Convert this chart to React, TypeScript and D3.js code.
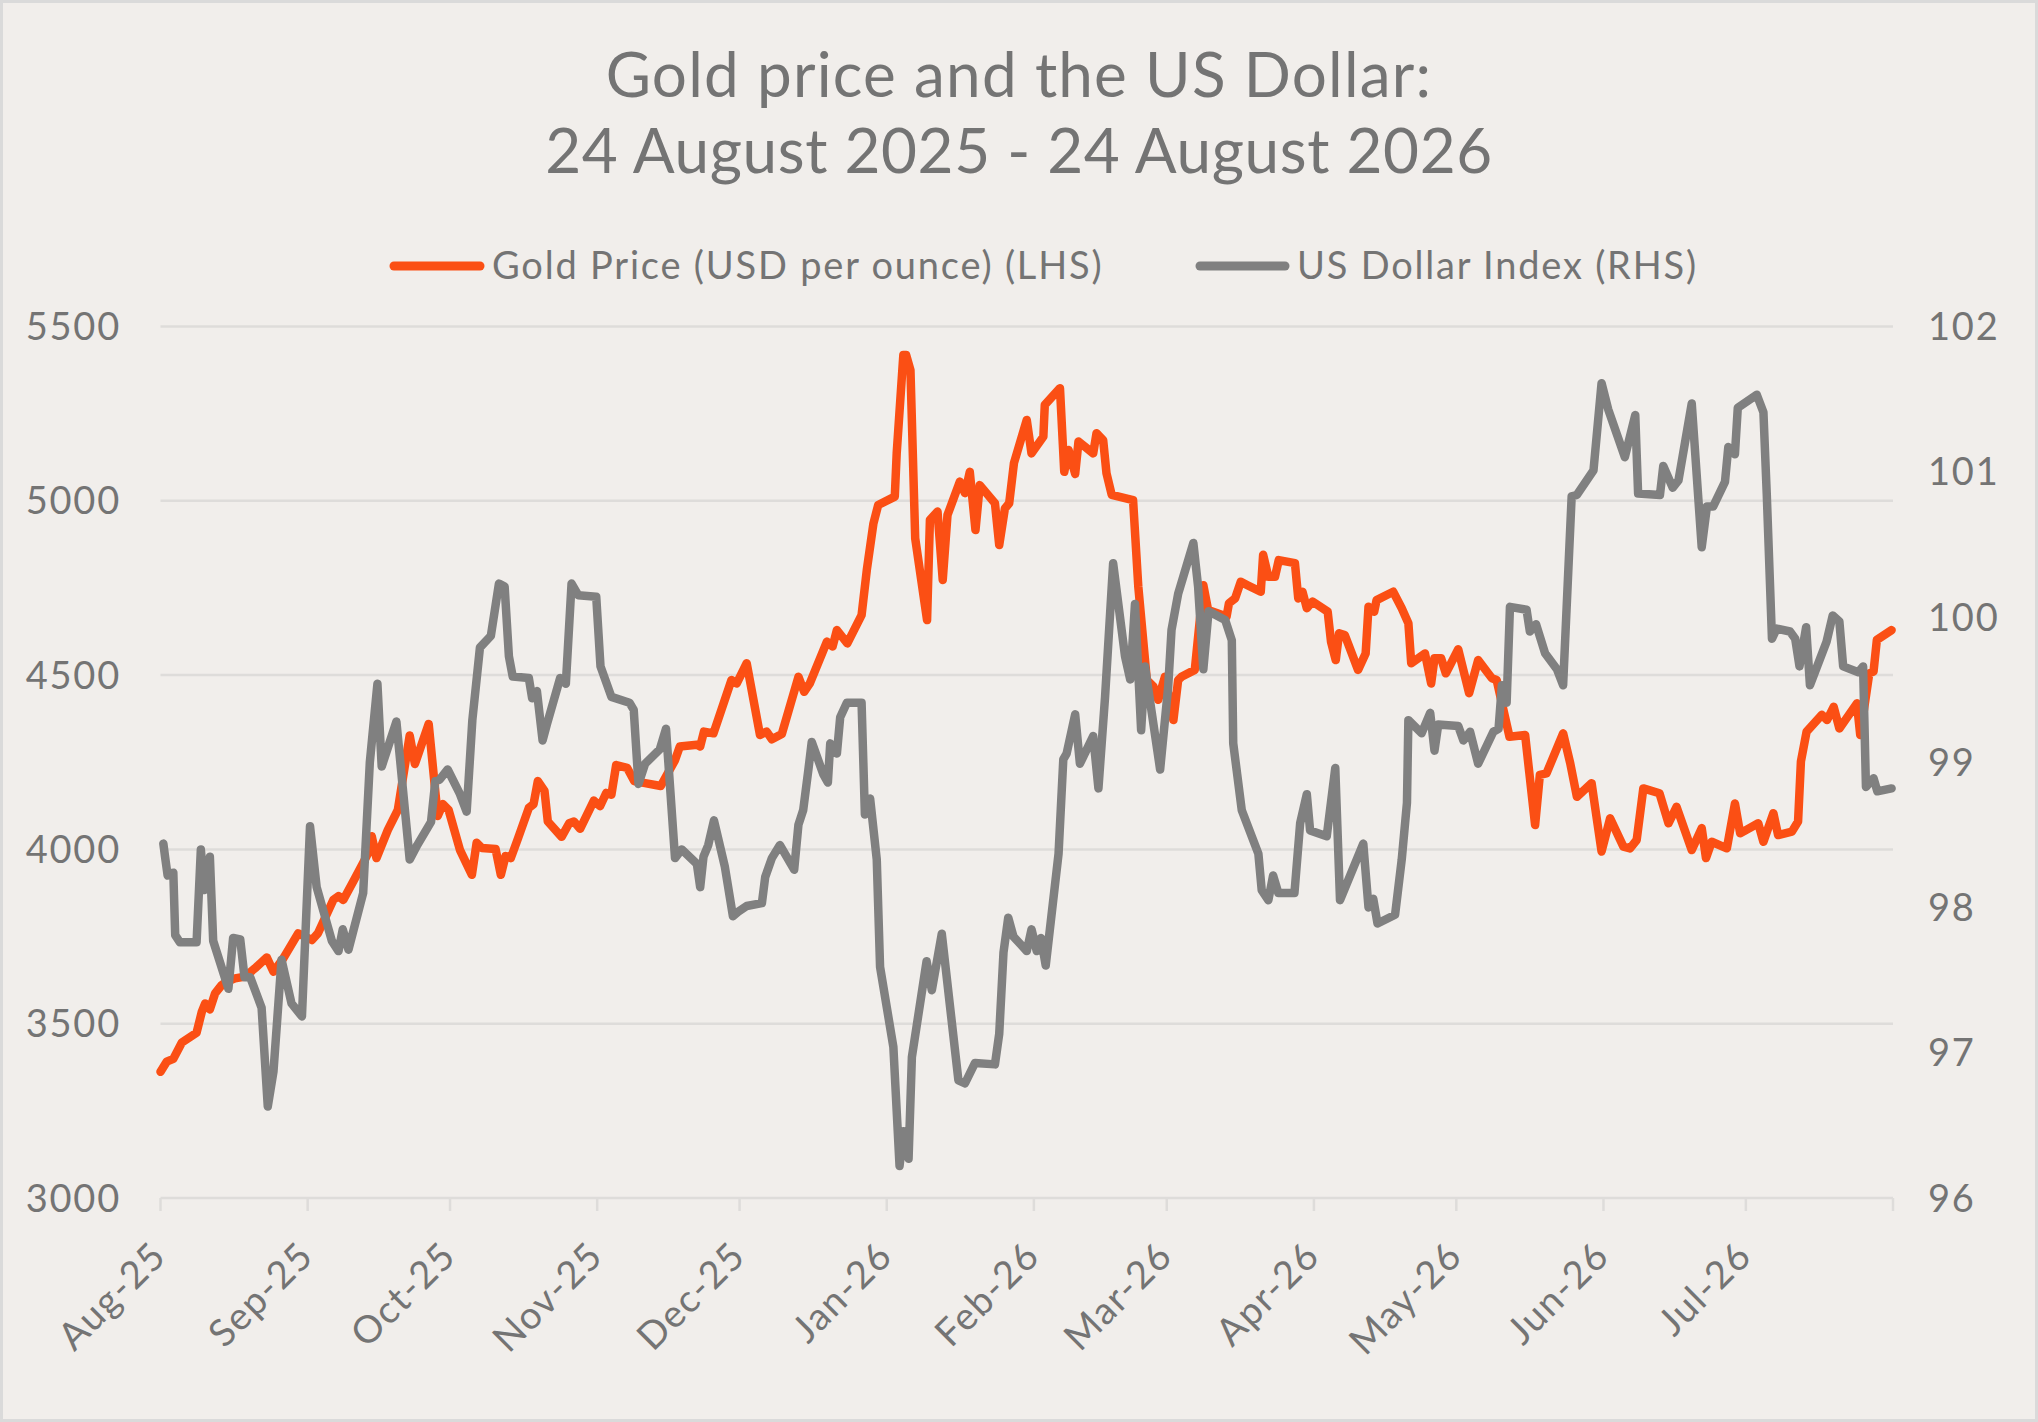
import React from "react";
import * as d3 from "d3";

const START_DATE = "2025-08-24";
const END_DATE = "2026-08-24";

const titleLines = ["Gold price and the US Dollar:", "24 August 2025 - 24 August 2026"];
const seriesNames = ["Gold Price (USD per ounce) (LHS)", "US Dollar Index (RHS)"];

const goldTicks = [3000, 3500, 4000, 4500, 5000, 5500];
const dxyTicks = [96, 97, 98, 99, 100, 101, 102];

// days since 24 Aug 2025
const goldDays = [
  0, 1.3, 2.7, 4.5, 7.6, 8.7, 9.4, 10.4, 11.5, 12.9, 13.9, 15.7, 17.8, 19.9, 22.4, 23.8, 25.9, 29.0,
  31.9, 33.2, 36.4, 37.5, 38.5, 41.0, 43.8, 44.5, 45.5, 47.9, 50.0, 52.5, 53.6, 56.5, 58.4, 59.5, 60.7,
  63.1, 65.6, 66.6, 67.7, 70.6, 71.7, 72.7, 73.8, 75.3, 77.6, 78.6, 79.5, 80.9, 81.6, 84.5, 86.1, 87.1,
  88.4, 91.3, 92.6, 93.9, 95.0, 96.0, 98.3, 99.8, 102.1, 105.4, 108.4, 109.4, 113.0, 113.7, 114.5, 116.5,
  120.3, 121.4, 123.5, 126.3, 127.7, 128.8, 130.9, 134.4, 135.6, 136.8, 140.4, 141.6, 142.5, 144.7, 147.7,
  148.8, 150.2, 151.2, 154.7, 155.1, 156.5, 157.1, 158.0, 159.0, 161.5, 162.1, 163.7, 164.8, 165.8, 168.4,
  169.5, 170.5, 171.7, 172.6, 175.8, 176.7, 177.9, 178.8, 179.8, 182.5, 183.5, 186.0, 186.3, 189.5, 190.4,
  191.3, 192.7, 193.4, 196.5, 197.2, 198.6, 199.3, 200.4, 204.9, 206.0, 207.8, 209.2, 210.2, 211.6, 213.4,
  214.4, 215.1, 217.9, 219.7, 220.7, 224.6, 225.1, 226.4, 227.6, 229.0, 231.8, 232.3, 233.4, 234.8, 235.6,
  239.0, 239.7, 240.6, 241.5, 242.7, 245.9, 246.6, 247.6, 248.3, 249.5, 252.3, 253.9, 254.5, 255.7, 256.2,
  259.7, 261.5, 262.9, 263.5, 266.4, 267.7, 268.4, 269.8, 270.8, 273.4, 275.7, 277.6, 280.5, 281.5, 284.2,
  287.5, 289.6, 290.6, 292.0, 295.5, 297.0, 298.4, 301.5, 303.6, 305.4, 308.2, 309.6, 311.0, 312.4, 315.8,
  317.7, 319.4, 322.6, 324.7, 325.6, 326.8, 330.0, 331.7, 332.8, 336.6, 337.7, 339.8, 340.8, 343.7, 345.0,
  345.6, 346.8, 350.0, 351.1, 352.5, 353.7, 355.2, 357.4, 358.1, 360.0, 360.9, 361.6, 364.7,
];
const goldPrice = [
  3362, 3391, 3399, 3446, 3474, 3534, 3558, 3541, 3587, 3611, 3620, 3630, 3635, 3659, 3690, 3649, 3688, 3759,
  3740, 3760, 3855, 3866, 3855, 3918, 3990, 4038, 3975, 4056, 4113, 4327, 4245, 4360, 4096, 4130, 4113,
  3998, 3927, 4019, 4004, 4001, 3927, 3981, 3975, 4031, 4119, 4130, 4196, 4168, 4080, 4036, 4075, 4080,
  4059, 4140, 4124, 4162, 4157, 4242, 4234, 4196, 4190, 4182, 4256, 4295, 4300, 4295, 4338, 4333,
  4486, 4476, 4534, 4328, 4338, 4316, 4331, 4495, 4452, 4476, 4596, 4582, 4629, 4591, 4672,
  4801, 4935, 4988, 5012, 5136, 5418, 5418, 5375, 4892, 4658, 4945, 4969, 4773, 4959, 5055,
  5022, 5083, 4916, 5045, 4993, 4873, 4978, 4993, 5108, 5232, 5136, 5184, 5275, 5323, 5083,
  5146, 5077, 5170, 5136, 5194, 5174, 5079, 5017, 5002, 4754, 4486, 4467, 4429, 4495, 4371,
  4486, 4495, 4515, 4758, 4687, 4668, 4706, 4720, 4768, 4758, 4739, 4845, 4782, 4782, 4830,
  4821, 4720, 4739, 4692, 4711, 4682, 4596, 4543, 4620, 4615, 4515, 4562, 4696, 4682, 4715,
  4739, 4692, 4649, 4534, 4562, 4476, 4548, 4548, 4505, 4574, 4448, 4543, 4491, 4486, 4323,
  4328, 4070, 4214, 4218, 4333, 4247, 4151, 4190, 3994, 4089, 4008, 4003, 4027, 4175, 4161,
  4075, 4122, 3998, 4061, 3975, 4022, 4003, 4132, 4046, 4075, 4022, 4104, 4041, 4051, 4080,
  4252, 4338, 4386, 4371, 4409, 4347, 4376, 4419, 4328, 4505, 4510, 4601, 4629,
];

const dxyDays = [
  0.6, 1.0, 1.5, 2.7, 3.1, 4.1, 7.6, 8.5, 9.2, 10.4, 11.1, 14.3, 15.3, 16.8, 17.7, 18.9, 21.3, 22.6, 23.8,
  25.5, 27.6, 29.8, 31.5, 32.9, 36.1, 37.5, 38.4, 39.6, 42.7, 44.1, 45.7, 46.6, 49.7, 52.5, 54.1, 57.0,
  57.9, 58.8, 60.5, 63.1, 64.5, 65.7, 67.3, 69.6, 71.3, 72.5, 73.4, 74.2, 77.6, 78.3, 79.3, 80.5, 81.4,
  84.2, 85.4, 86.6, 88.0, 91.8, 92.7, 95.0, 98.8, 99.7, 100.7, 102.1, 105.2, 106.5, 108.4, 109.8, 113.0,
  113.7, 114.4, 115.4, 116.6, 118.9, 120.6, 121.7, 123.5, 126.7, 127.4, 128.8, 130.5, 133.5, 134.4, 135.4,
  136.5, 137.2, 139.6, 140.6, 141.1, 142.5, 143.2, 144.6, 147.7, 148.4, 149.5, 150.9, 151.6, 154.4, 155.7,
  156.5, 157.6, 158.3, 161.4, 162.5, 164.6, 168.1, 169.5, 171.6, 175.8, 176.7, 177.6, 178.6, 179.7, 182.5,
  183.5, 184.6, 185.5, 186.5, 189.2, 190.2, 190.9, 192.7, 193.7, 196.5, 197.6, 199.0, 200.7, 203.2, 204.3,
  205.3, 206.6, 207.4, 210.6, 212.3, 213.0, 214.4, 217.6, 218.6, 219.7, 220.8, 224.3, 225.7, 226.0, 227.8,
  231.3, 232.0, 233.4, 234.4, 235.5, 238.9, 240.1, 241.5, 242.2, 245.7, 247.5, 248.5, 253.4, 254.5, 255.5,
  256.4, 260.1, 261.5, 262.6, 262.9, 265.7, 267.5, 268.4, 269.2, 273.4, 274.5, 275.9, 277.6, 280.8, 281.9,
  282.6, 283.6, 284.3, 287.8, 288.5, 289.8, 291.7, 294.2, 295.5, 297.3, 298.4, 301.9, 303.6, 305.0, 308.5,
  310.7, 311.3, 315.9, 316.6, 318.6, 319.8, 322.6, 324.7, 325.8, 327.1, 329.6, 330.3, 331.7, 332.3, 336.3,
  337.7, 338.4, 339.5, 340.5, 343.3, 344.4, 345.3, 346.7, 347.5, 351.0, 352.3, 353.7, 354.5, 357.7, 358.7,
  359.3, 360.9, 361.7, 364.7,
];
const dxyIndex = [
  98.44, 98.34, 98.22, 98.24, 97.81, 97.76, 97.76, 98.40, 98.12, 98.35, 97.77, 97.44, 97.79, 97.78, 97.52, 97.52, 97.31, 96.63, 96.87,
  97.64, 97.34, 97.25, 98.56, 98.14, 97.77, 97.70, 97.85, 97.71, 98.10, 99.00, 99.54, 98.97, 99.28, 98.33, 98.43, 98.59,
  98.87, 98.88, 98.95, 98.78, 98.66, 99.29, 99.79, 99.87, 100.23, 100.21, 99.73, 99.59, 99.58, 99.44, 99.49, 99.15, 99.26,
  99.58, 99.54, 100.23, 100.15, 100.14, 99.66, 99.45, 99.41, 99.36, 98.85, 98.99, 99.09, 99.23, 98.34, 98.40, 98.30,
  98.14, 98.35, 98.43, 98.60, 98.28, 97.94, 97.97, 98.01, 98.03, 98.21, 98.34, 98.43, 98.26, 98.57, 98.67,
  98.95, 99.14, 98.92, 98.86, 99.13, 99.06, 99.31, 99.41, 99.41, 98.64, 98.75, 98.33, 97.59, 97.04, 96.22,
  96.46, 96.27, 96.97, 97.63, 97.43, 97.82, 96.81, 96.79, 96.93, 96.92, 97.13, 97.69, 97.93, 97.80, 97.70,
  97.85, 97.70, 97.79, 97.60, 98.37, 99.02, 99.06, 99.33, 98.99, 99.18, 98.82, 99.45, 100.37, 99.73, 99.57,
  100.09, 99.22, 99.66, 98.95, 99.52, 99.91, 100.16, 100.51, 100.21, 99.64, 100.04, 99.98, 99.84, 99.13, 98.67,
  98.37, 98.12, 98.05, 98.22, 98.10, 98.10, 98.58, 98.78, 98.53, 98.49, 98.96, 98.05, 98.44, 98.00, 98.06,
  97.89, 97.95, 98.33, 98.72, 99.29, 99.20, 99.34, 99.08, 99.26, 99.25, 99.15, 99.21, 98.99, 99.21, 99.23,
  99.53, 99.41, 100.07, 100.05, 99.90, 99.95, 99.75, 99.64, 99.53, 100.83, 100.84, 101.01, 101.61, 101.43, 101.10,
  101.39, 100.85, 100.84, 101.04, 100.89, 100.94, 101.47, 100.48, 100.76, 100.76, 100.93, 101.17, 101.12, 101.44, 101.53,
  101.41, 100.85, 99.85, 99.92, 99.90, 99.85, 99.66, 99.93, 99.53, 99.83, 100.01, 99.97, 99.66, 99.62, 99.66,
  98.83, 98.89, 98.80, 98.82,
];

const GOLD_COLOR = "#FB4F14";
const DXY_COLOR = "#808080";
const TEXT_COLOR = "#747474";
const GRID_COLOR = "#DEDCDA";
const BG = "#F1EEEB";
const FONT = "Lato, 'Noto Sans', sans-serif";

export default function App() {
  const W = 2038;
  const H = 1422;
  const left = 160.5;
  const right = 1893;
  const top = 326.5;
  const bottom = 1198;

  const parse = d3.utcParse("%Y-%m-%d");
  const start = parse(START_DATE) as Date;
  const end = parse(END_DATE) as Date;
  const DAY = 86400000;
  const toDate = (d: number) => new Date(start.getTime() + d * DAY);

  const x = d3.scaleUtc().domain([start, end]).range([left, right]);
  const yGold = d3.scaleLinear().domain([3000, 5500]).range([bottom, top]);
  const yDxy = d3.scaleLinear().domain([96, 102]).range([bottom, top]);

  const gold = goldDays.map((d, i) => ({ date: toDate(d), v: goldPrice[i] }));
  const dxy = dxyDays.map((d, i) => ({ date: toDate(d), v: dxyIndex[i] }));

  const goldLine = d3
    .line<{ date: Date; v: number }>()
    .x((d) => x(d.date))
    .y((d) => yGold(d.v));
  const dxyLine = d3
    .line<{ date: Date; v: number }>()
    .x((d) => x(d.date))
    .y((d) => yDxy(d.v));

  const monthTicks = d3.range(13).map((i) => d3.utcMonth.offset(start, i));
  const fmt = d3.utcFormat("%b-%y");

  return (
    <div style={{ position: "absolute", left: 0, top: 0 }}>
      <svg width={W} height={H} viewBox={`0 0 ${W} ${H}`} style={{ display: "block" }}>
        <rect x={1.5} y={1.5} width={W - 3} height={H - 3} fill={BG} stroke="#DADADA" strokeWidth={3} />

        {titleLines.map((t, i) => (
          <text
            key={t}
            x={W / 2}
            y={97 + i * 76}
            textAnchor="middle"
            fontFamily={FONT}
            fontSize={62}
            letterSpacing={i === 0 ? 1.2 : 0.6}
            fill={TEXT_COLOR}
          >
            {t}
          </text>
        ))}

        {/* legend */}
        <line x1={394} x2={480} y1={266} y2={266} stroke={GOLD_COLOR} strokeWidth={9} strokeLinecap="round" />
        <text x={492} y={279} fontFamily={FONT} fontSize={38} letterSpacing={1.8} fill={TEXT_COLOR}>
          {seriesNames[0]}
        </text>
        <line x1={1200} x2={1285} y1={266} y2={266} stroke={DXY_COLOR} strokeWidth={9} strokeLinecap="round" />
        <text x={1297} y={279} fontFamily={FONT} fontSize={38} letterSpacing={1.8} fill={TEXT_COLOR}>
          {seriesNames[1]}
        </text>

        {/* gridlines */}
        {goldTicks.map((t) => (
          <line key={t} x1={left} x2={right} y1={yGold(t)} y2={yGold(t)} stroke={GRID_COLOR} strokeWidth={2.5} />
        ))}

        {/* x ticks */}
        {monthTicks.map((d, i) => (
          <line key={i} x1={x(d)} x2={x(d)} y1={bottom} y2={bottom + 13} stroke={GRID_COLOR} strokeWidth={2.5} />
        ))}

        {/* left axis labels */}
        {goldTicks.map((t) => (
          <text
            key={t}
            x={121}
            y={yGold(t) + 13.5}
            textAnchor="end"
            fontFamily={FONT}
            fontSize={38}
            letterSpacing={1.8}
            fill={TEXT_COLOR}
          >
            {t}
          </text>
        ))}

        {/* right axis labels */}
        {dxyTicks.map((t) => (
          <text
            key={t}
            x={1928}
            y={yDxy(t) + 13.5}
            fontFamily={FONT}
            fontSize={38}
            letterSpacing={1.8}
            fill={TEXT_COLOR}
          >
            {t}
          </text>
        ))}

        {/* x labels */}
        {monthTicks.slice(0, 12).map((d, i) => {
          const px = x(d) + 8;
          const py = 1258;
          return (
            <text
              key={i}
              x={px}
              y={py}
              textAnchor="end"
              transform={`rotate(-45 ${px} ${py})`}
              fontFamily={FONT}
              fontSize={38}
              letterSpacing={1.5}
              fill={TEXT_COLOR}
            >
              {fmt(d)}
            </text>
          );
        })}

        <path
          d={goldLine(gold) || ""}
          fill="none"
          stroke={GOLD_COLOR}
          strokeWidth={8.5}
          strokeLinejoin="round"
          strokeLinecap="round"
        />
        <path
          d={dxyLine(dxy) || ""}
          fill="none"
          stroke={DXY_COLOR}
          strokeWidth={8.5}
          strokeLinejoin="round"
          strokeLinecap="round"
        />
      </svg>
    </div>
  );
}
